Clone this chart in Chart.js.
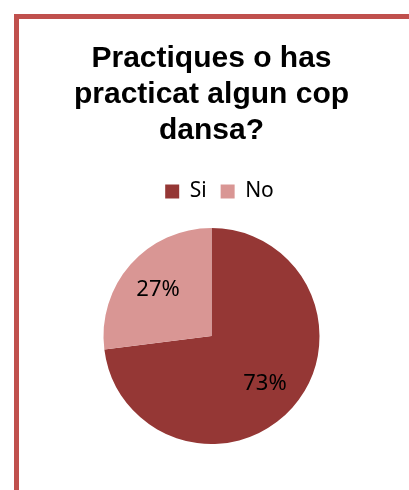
<!DOCTYPE html>
<html>
<head>
<meta charset="utf-8">
<script src="https://cdn.jsdelivr.net/npm/chart.js@4.4.1/dist/chart.umd.min.js"></script>
<style>
  html, body { margin: 0; padding: 0; background: #fff; overflow: hidden; }
  #wrap { position: relative; width: 409px; height: 490px; }
  #frame {
    position: absolute; left: 14px; top: 14px; width: 500px; height: 600px;
    border-top: 5px solid #C0504D; border-left: 5px solid #C0504D;
  }
  #pie { position: absolute; left: 0; top: 0; }
</style>
</head>
<body>
<div id="wrap">
  <div id="frame"></div>
  <canvas id="pie" width="409" height="490"></canvas>
</div>
<script>
const categories = ["Si", "No"];
const values = [73, 27];
const sliceColors = ["#953735", "#D99694"];
const titleLines = ["Practiques o has", "practicat algun cop", "dansa?"];

// percentage labels inside the slices
const sliceLabels = {
  id: "sliceLabels",
  afterDatasetsDraw(chart) {
    const ctx = chart.ctx;
    const meta = chart.getDatasetMeta(0);
    ctx.save();
    ctx.font = "22px 'Noto Sans'";
    ctx.fillStyle = "#000";
    ctx.textAlign = "center";
    ctx.textBaseline = "middle";
    meta.data.forEach((arc, i) => {
      const { x, y, startAngle, endAngle, outerRadius } = arc.getProps(
        ["x", "y", "startAngle", "endAngle", "outerRadius"], true);
      const mid = (startAngle + endAngle) / 2;
      const r = outerRadius * 0.66;
      ctx.fillText(values[i] + "%", x + Math.cos(mid) * r, y + Math.sin(mid) * r + 1);
    });
    ctx.restore();
  },
};

// extra room under the legend, and nudge it a bit to the right
const legendGap = {
  id: "legendGap",
  beforeInit(chart) {
    const fit = chart.legend.fit;
    chart.legend.fit = function () {
      fit.bind(chart.legend)();
      this.height += 16;
    };
  },
  afterLayout(chart) {
    chart.legend.left += 8;
    chart.legend.right += 8;
  },
};

new Chart(document.getElementById("pie"), {
  type: "pie",
  data: {
    labels: categories,
    datasets: [
      {
        data: values,
        backgroundColor: sliceColors,
        borderWidth: 0,
      },
    ],
  },
  options: {
    responsive: false,
    animation: false,
    layout: { padding: { left: 14, right: 0, top: 0, bottom: 46 } },
    plugins: {
      title: {
        display: true,
        text: titleLines,
        color: "#000",
        font: { family: "'Liberation Sans', Arial", size: 30, weight: "bold", lineHeight: 1.2 },
        padding: { top: 41, bottom: 18 },
      },
      legend: {
        display: true,
        position: "top",
        labels: {
          color: "#000",
          boxWidth: 14,
          boxHeight: 14,
          padding: 14,
          font: { family: "'Noto Sans'", size: 21 },
        },
      },
      tooltip: { enabled: false },
    },
  },
  plugins: [legendGap, sliceLabels],
});
</script>
</body>
</html>
